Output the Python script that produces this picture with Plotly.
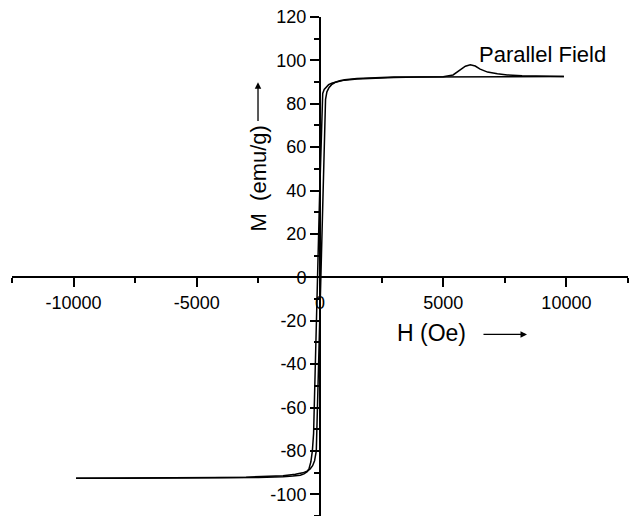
import plotly.graph_objects as go

# Descending branch (from +H to -H)
desc_H = [9900, 8000, 6000, 4000, 3000, 2000, 1500, 1000, 700, 500, 350, 250, 170, 110, 40, -20,
          -80, -140, -200, -260, -310, -370, -440, -520, -650, -800, -1100, -1500, -2500,
          -4000, -6000, -8000, -9900]
desc_M = [92.6, 92.6, 92.5, 92.3, 92.1, 91.8, 91.4, 90.9, 90.3, 89.6, 88.8, 87.8, 86.6, 84.8, 62, 36,
          9, -18, -45, -72, -80, -85, -88, -89.6, -90.6, -91.2, -91.6, -91.9, -92.2,
          -92.4, -92.5, -92.6, -92.6]

# Ascending branch (from -H to +H), with the bump near 6000 Oe
asc_H = [-9900, -8000, -6000, -4000, -3000, -2000, -1500, -1000, -700, -500, -400, -300, -220, -150,
         -90, -20, 40, 100, 160, 225, 280, 370, 470, 620, 800, 1000, 1500, 2000, 3000, 4000, 5000,
         5400, 5700, 5900, 6100, 6300, 6500, 6800, 7200, 7600, 8200, 9000, 9900]
asc_M = [-92.6, -92.6, -92.5, -92.3, -92.1, -91.8, -91.4, -90.8, -90.1, -89.2, -88.3, -86.8, -84.5, -80,
         -55, -28, 0, 27, 54, 82, 85.5, 87.5, 88.8, 89.9, 90.6, 91.1, 91.7, 92.0, 92.3, 92.4, 92.5,
         93.3, 95.5, 97.3, 98.0, 97.4, 96.0, 94.6, 93.8, 93.3, 92.9, 92.7, 92.6]

x_ticks = [-10000, -5000, 0, 5000, 10000]
y_ticks = [-100, -80, -60, -40, -20, 0, 20, 40, 60, 80, 100, 120]

XR = [-12500, 12500]
YR = [-110, 120]

fig = go.Figure()
fig.add_trace(go.Scatter(x=desc_H, y=desc_M, mode="lines",
                         line=dict(color="black", width=1.5), showlegend=False))
fig.add_trace(go.Scatter(x=asc_H, y=asc_M, mode="lines",
                         line=dict(color="black", width=1.5), showlegend=False))

font_family = "Liberation Sans, Arial, sans-serif"

fig.update_layout(
    width=631, height=516,
    margin=dict(l=12, r=3, t=17, b=0),
    paper_bgcolor="white", plot_bgcolor="white",
    font=dict(family=font_family, color="black", size=18),
    xaxis=dict(
        range=XR, tickvals=x_ticks, ticktext=[str(v) for v in x_ticks],
        anchor="free", position=(0 - YR[0]) / (YR[1] - YR[0]), side="bottom",
        showline=True, linecolor="black", linewidth=2,
        ticks="outside", ticklen=9, tickwidth=1.6, tickcolor="black",
        minor=dict(tickvals=[-12500, -7500, -2500, 2500, 7500, 12500], ticks="outside",
                   ticklen=5, tickwidth=1.6, tickcolor="black"),
        showgrid=False, zeroline=False,
        tickfont=dict(size=18, family=font_family),
    ),
    yaxis=dict(
        range=YR, tickvals=y_ticks, ticktext=[str(v) for v in y_ticks],
        anchor="free", position=(0 - XR[0]) / (XR[1] - XR[0]), side="left",
        showline=True, linecolor="black", linewidth=2,
        ticks="outside", ticklen=9, tickwidth=1.6, tickcolor="black",
        minor=dict(dtick=10, tick0=0, ticks="outside", ticklen=5, tickwidth=1.6, tickcolor="black"),
        showgrid=False, zeroline=False,
        tickfont=dict(size=18, family=font_family),
    ),
)

# Axis title: H (Oe) with arrow
fig.add_annotation(x=3044, y=-25.8, xref="x", yref="y", text="H (Oe)", showarrow=False,
                   xanchor="left", yanchor="middle", font=dict(size=23, family=font_family))
fig.add_annotation(x=8400, y=-26.3, ax=6574, ay=-26.3, xref="x", yref="y", axref="x", ayref="y",
                   text="", showarrow=True, arrowhead=2, arrowsize=1, arrowwidth=1.3, arrowcolor="black")

# Axis title: M (emu/g) with arrow
fig.add_annotation(x=-2516, y=45.6, xref="x", yref="y", text="M  (emu/g)", showarrow=False,
                   textangle=-90, xanchor="center", yanchor="middle", font=dict(size=22, family=font_family))
fig.add_annotation(x=-2516, y=89.9, ax=-2516, ay=71.4, xref="x", yref="y", axref="x", ayref="y",
                   text="", showarrow=True, arrowhead=2, arrowsize=1, arrowwidth=1.3, arrowcolor="black")

# Label
fig.add_annotation(x=6371, y=102.8, xref="x", yref="y", text="Parallel Field", showarrow=False,
                   xanchor="left", yanchor="middle", font=dict(size=22, family=font_family))

fig.write_html("out.html")
